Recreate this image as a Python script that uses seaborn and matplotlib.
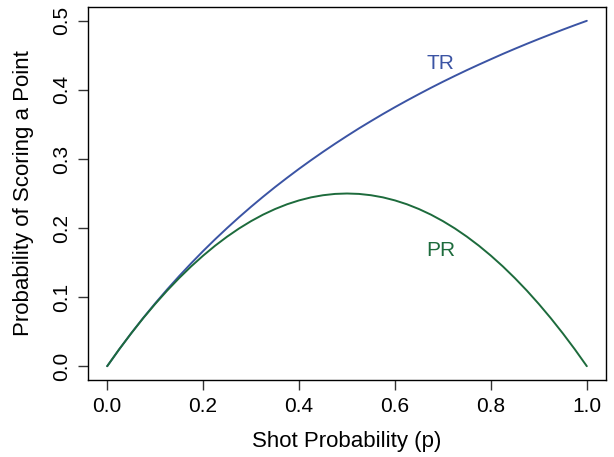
import numpy as np
import pandas as pd
import matplotlib
matplotlib.use("Agg")
import matplotlib.pyplot as plt
import seaborn as sns

# valores
p = [0.000, 0.025, 0.050, 0.075, 0.100, 0.125, 0.150, 0.175, 0.200, 0.225,
     0.250, 0.275, 0.300, 0.325, 0.350, 0.375, 0.400, 0.425, 0.450, 0.475,
     0.500, 0.525, 0.550, 0.575, 0.600, 0.625, 0.650, 0.675, 0.700, 0.725,
     0.750, 0.775, 0.800, 0.825, 0.850, 0.875, 0.900, 0.925, 0.950, 0.975, 1.000]
tr = [0.0000, 0.0244, 0.0476, 0.0698, 0.0909, 0.1111, 0.1304, 0.1489, 0.1667, 0.1837,
      0.2000, 0.2157, 0.2308, 0.2453, 0.2593, 0.2727, 0.2857, 0.2982, 0.3103, 0.3220,
      0.3333, 0.3443, 0.3548, 0.3651, 0.3750, 0.3846, 0.3939, 0.4030, 0.4118, 0.4203,
      0.4286, 0.4366, 0.4444, 0.4521, 0.4595, 0.4667, 0.4737, 0.4805, 0.4872, 0.4937, 0.5000]
pr = [0.0000, 0.0244, 0.0475, 0.0694, 0.0900, 0.1094, 0.1275, 0.1444, 0.1600, 0.1744,
      0.1875, 0.1994, 0.2100, 0.2194, 0.2275, 0.2344, 0.2400, 0.2444, 0.2475, 0.2494,
      0.2500, 0.2494, 0.2475, 0.2444, 0.2400, 0.2344, 0.2275, 0.2194, 0.2100, 0.1994,
      0.1875, 0.1744, 0.1600, 0.1444, 0.1275, 0.1094, 0.0900, 0.0694, 0.0475, 0.0244, 0.0000]
x_ticks = [0.0, 0.2, 0.4, 0.6, 0.8, 1.0]
y_ticks = [0.0, 0.1, 0.2, 0.3, 0.4, 0.5]

df = pd.DataFrame({"p": p * 2, "prob": tr + pr,
                   "serie": ["TR"] * len(p) + ["PR"] * len(p)})

sns.set_theme(style="ticks")
plt.rcParams["font.family"] = ["Liberation Sans", "DejaVu Sans"]
plt.rcParams["text.color"] = "black"
plt.rcParams["axes.labelcolor"] = "black"
plt.rcParams["xtick.color"] = "#333333"
plt.rcParams["ytick.color"] = "#333333"
plt.rcParams["xtick.labelcolor"] = "black"
plt.rcParams["ytick.labelcolor"] = "black"
colores = {"TR": "#3b54a4", "PR": "#1d6b3c"}

fig = plt.figure(figsize=(6.14, 4.57), dpi=100)
ax = fig.add_axes([88 / 614, 1 - 380 / 457, 518 / 614, 373 / 457])

sns.lineplot(data=df, x="p", y="prob", hue="serie", palette=colores,
             linewidth=1.4, legend=False, ax=ax)

ax.set_xlim(-0.04, 1.04)
ax.set_ylim(-0.02, 0.52)
ax.set_xticks(x_ticks)
ax.set_xticklabels([f"{v:.1f}" for v in x_ticks])
ax.set_yticks(y_ticks)
ax.set_yticklabels([f"{v:.1f}" for v in y_ticks], rotation=90, va="center")
ax.tick_params(labelsize=15, length=7, width=1, pad=5)
for s in ax.spines.values():
    s.set_linewidth(1)
    s.set_color("black")

ax.set_xlabel("Shot Probability (p)", fontsize=16, labelpad=11)
ax.set_ylabel("Probability of Scoring a Point", fontsize=16, labelpad=13)

ax.text(0.665, 0.438, "TR", color=colores["TR"], fontsize=15, ha="left", va="center")
ax.text(0.665, 0.167, "PR", color=colores["PR"], fontsize=15, ha="left", va="center")

plt.savefig("out.png", dpi=100)
